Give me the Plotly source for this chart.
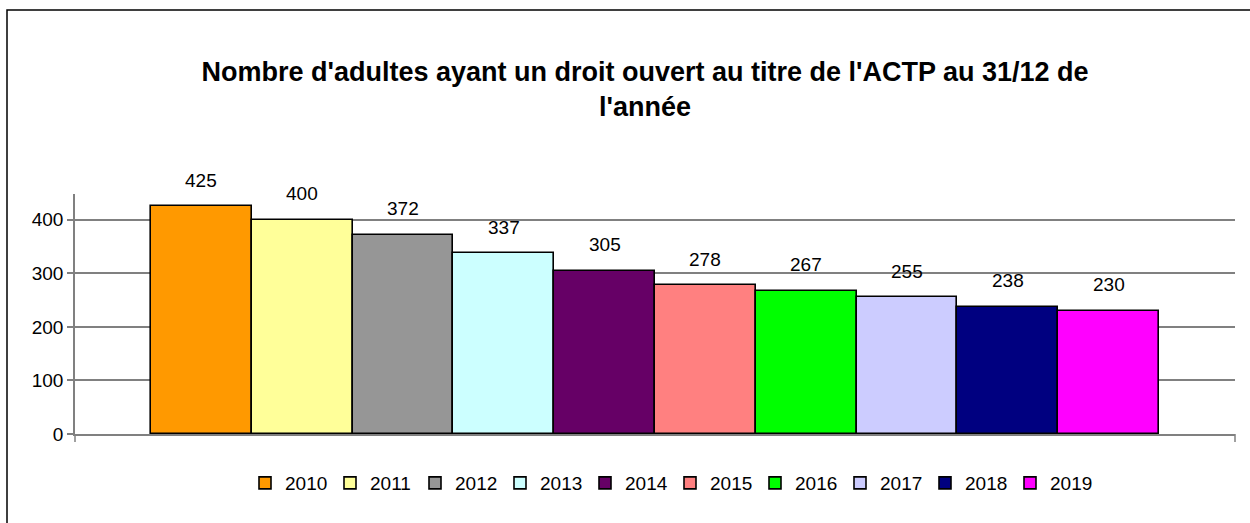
import plotly.graph_objects as go

years = ["2010", "2011", "2012", "2013", "2014", "2015", "2016", "2017", "2018", "2019"]
values = [425, 400, 372, 337, 305, 278, 267, 255, 238, 230]
colors = ["#FF9900", "#FFFF99", "#969696", "#CCFFFF", "#660066",
          "#FF8080", "#00FF00", "#CCCCFF", "#000080", "#FF00FF"]
y_ticks = [0, 100, 200, 300, 400]
title_text = "Nombre d'adultes ayant un droit ouvert au titre de l'ACTP au 31/12 de<br>l'année"

FONT = "Liberation Sans, Arial, sans-serif"

W, H = 1250, 523
L, R, T, B = 75, 15, 194, 89
pw, ph = W - L - R, H - T - B

fig = go.Figure()
for yr, v, c in zip(years, values, colors):
    fig.add_trace(go.Bar(
        x=[yr], y=[v], name=yr,
        marker=dict(color=c, line=dict(color="#000000", width=1.6)),
        hoverinfo="x+y",
    ))

for i, v in enumerate(values):
    fig.add_annotation(x=i, y=v, text=str(v), showarrow=False,
                       yshift=26, font=dict(size=19, color="#000000", family=FONT))

n = len(years)
pad = (pw / ((1 - 0.131) * pw / n) - n) / 2


def px_to_paper_x(px):
    return (px - L) / pw


def px_to_paper_y(py):
    return (H - B - py) / ph


# outer chart border
fig.add_shape(type="rect", xref="paper", yref="paper",
              x0=px_to_paper_x(7), x1=px_to_paper_x(1262),
              y0=px_to_paper_y(540), y1=px_to_paper_y(10),
              line=dict(color="#000000", width=1.5), fillcolor="rgba(0,0,0,0)", layer="below")
# end ticks on category axis
for xp in (0, 1):
    fig.add_shape(type="line", xref="paper", yref="paper",
                  x0=xp, x1=xp, y0=0, y1=px_to_paper_y(H - B + 8),
                  line=dict(color="#808080", width=1.5))

fig.update_layout(
    width=W, height=H,
    margin=dict(l=L, r=R, t=T, b=B),
    paper_bgcolor="#FFFFFF", plot_bgcolor="#FFFFFF",
    barmode="relative", bargap=0,
    font=dict(family=FONT, size=19, color="#000000"),
    title=dict(text=title_text, x=645 / W, xanchor="center", xref="container",
               y=1 - 81 / H, yanchor="top", yref="container",
               font=dict(family=FONT, size=27, color="#000000", weight="bold")),
    showlegend=True,
    legend=dict(orientation="h", xref="container", yref="container",
                x=670 / W, xanchor="center", y=1 - 483 / H, yanchor="middle",
                font=dict(family=FONT, size=19, color="#000000"),
                entrywidth=40, entrywidthmode="pixels",
                traceorder="normal", itemclick=False),
    xaxis=dict(type="category", range=[-0.5 - pad, n - 0.5 + pad],
               showticklabels=False, ticks="", showgrid=False,
               showline=True, linecolor="#808080", linewidth=1.5, zeroline=False),
    yaxis=dict(range=[0, 448], tickvals=y_ticks, showgrid=True,
               gridcolor="#808080", gridwidth=1.5, showline=True,
               linecolor="#808080", linewidth=1.5, ticks="outside",
               ticklen=6, tickcolor="#808080", tickwidth=1.5, zeroline=False,
               tickfont=dict(family=FONT, size=19, color="#000000")),
)

fig.write_html("out.html", config={"displayModeBar": False},
               post_script="document.body.style.margin='0';document.body.style.overflow='hidden';")
